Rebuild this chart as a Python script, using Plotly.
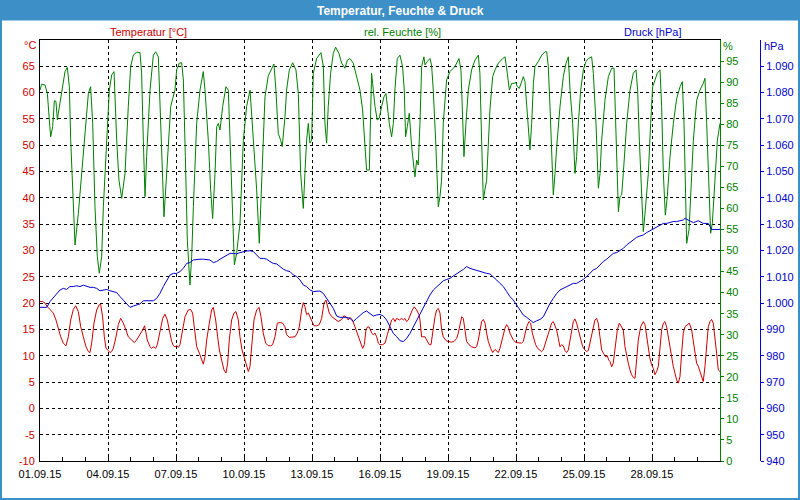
import plotly.graph_objects as go
import pandas as pd

START = "2015-09-01"

# ---- relative humidity [%] (hours since start, value) ----
hum_hours = [
    0, 1.8, 5.3, 7.8, 9.9, 11.3, 13.4, 15.2, 16.9, 18.4,
    19.4, 22.9, 26.5, 28.9, 31.1, 32.5, 34.6, 37.1, 40.6, 44.1,
    47.6, 51.2, 53.6, 55.8, 58.2, 60.7, 62.8, 65.3, 67.1, 70.6,
    73.4, 75.9, 78.4, 81.2, 83.6, 86.5, 90.0, 93.5, 96.0, 98.8,
    102.4, 105.9, 107.6, 109.4, 111.2, 112.9, 116.5, 120.0, 122.5, 125.3,
    127.8, 129.9, 131.3, 132.4, 134.1, 138.4, 140.5, 142.9, 144.7, 147.5,
    150.0, 151.8, 153.9, 156.0, 158.8, 160.6, 162.4, 165.9, 169.4, 172.9,
    174.7, 178.2, 180.7, 182.8, 185.3, 187.1, 188.8, 190.6, 193.4, 196.9,
    199.4, 201.9, 204.0, 205.8, 208.2, 211.8, 215.3, 218.8, 222.4, 225.9,
    229.4, 232.2, 234.7, 236.4, 238.2, 241.7, 245.3, 247.7, 249.8, 252.3,
    254.8, 256.5, 259.4, 261.1, 264.0, 267.5, 271.0, 273.5, 276.0, 278.8,
    280.5, 282.3, 284.1, 285.8, 287.6, 289.4, 292.9, 297.5, 300.0, 301.7,
    303.5, 305.2, 307.7, 310.5, 313.0, 316.5, 319.4, 322.9, 325.4, 328.2,
    331.7, 335.2, 338.8, 341.6, 344.1, 345.8, 348.7, 350.1, 351.1, 352.2,
    354.7, 357.1, 359.2, 361.7, 364.2, 366.3, 367.7, 369.8, 372.3, 374.1,
    375.8, 378.3, 381.1, 383.9, 385.7, 387.1, 388.9, 391.0, 393.5, 395.9,
    397.0, 398.8, 400.5, 402.3, 404.1, 406.5, 407.6, 410.1, 412.9, 414.6,
    416.4, 418.9, 421.7, 423.5, 425.2, 427.0, 430.5, 434.1, 439.4, 443.6,
    445.7, 447.1, 448.9, 451.0, 453.5, 457.0, 460.5, 464.1, 465.8, 467.6,
    469.4, 471.1, 472.9, 476.4, 479.3, 481.8, 485.3, 489.9, 492.4, 494.8,
    497.0, 499.4, 501.9, 504.0, 505.4, 507.5, 510.0, 511.8, 513.5, 515.3,
    517.1, 518.8, 520.6, 522.4, 524.1, 527.7, 531.2, 534.7, 536.5, 538.2,
    540.0, 541.8, 543.5, 545.3, 547.1, 550.6, 554.1, 557.0, 559.4, 561.2,
    564.0, 566.5, 568.2, 570.0, 572.5, 575.3, 578.1, 580.6, 584.1, 585.9,
    588.7, 591.2, 593.0, 594.7, 598.2, 601.8, 605.3, 607.8, 609.2, 610.6,
    612.4, 614.1, 615.9, 617.6, 621.2, 624.7, 628.2, 631.1, 632.8, 634.6,
    637.1, 638.8, 640.6, 644.1, 646.6, 648.7, 651.2, 653.6, 656.5, 658.2,
    660.0, 662.1, 664.2, 667.1, 670.6, 674.1, 677.7, 680.1, 681.9, 683.6,
    684.7, 687.2, 688.9, 691.8, 695.3, 698.8, 702.3, 704.1, 705.9, 708.0,
    710.1, 711.9, 714.7, 717.2, 720.0,
]
hum_values = [
    88.1, 89.5, 89.3, 87.3, 81.0, 77.0, 79.4, 85.6, 85.4, 81.0,
    82.6, 87.3, 92.5, 93.5, 88.9, 76.2, 66.0, 51.3, 58.8, 68.3,
    79.4, 87.3, 88.9, 80.2, 60.4, 48.5, 44.6, 48.5, 60.4, 76.2,
    88.1, 91.7, 92.5, 76.2, 66.7, 62.4, 68.3, 84.2, 93.7, 96.4,
    97.1, 97.0, 92.1, 76.2, 62.8, 72.3, 88.1, 96.4, 97.2, 96.0,
    80.2, 68.3, 58.0, 62.0, 68.3, 84.2, 86.1, 88.1, 92.9, 94.5,
    94.6, 90.5, 72.3, 52.5, 41.8, 48.5, 60.4, 80.2, 88.1, 92.5,
    88.1, 76.2, 64.4, 57.6, 68.3, 79.4, 80.2, 78.6, 84.2, 88.9,
    88.1, 72.3, 56.5, 46.6, 49.3, 56.5, 76.2, 84.2, 88.1, 76.2,
    64.4, 51.7, 66.0, 80.0, 86.5, 91.5, 93.3, 94.3, 88.1, 77.8,
    76.2, 74.7, 81.8, 88.1, 92.9, 94.6, 92.9, 87.3, 68.3, 60.0,
    68.3, 76.2, 80.2, 75.5, 76.2, 92.1, 95.6, 97.0, 93.7, 80.2,
    75.5, 84.2, 92.1, 96.8, 98.3, 96.8, 94.5, 93.3, 95.2, 95.6,
    94.5, 91.3, 88.1, 83.4, 76.2, 69.1, 69.1, 84.2, 92.1, 89.7,
    84.2, 81.0, 81.4, 84.2, 86.5, 87.3, 84.2, 80.2, 77.0, 80.2,
    88.1, 95.6, 96.4, 93.7, 88.1, 77.0, 79.4, 82.6, 74.7, 68.3,
    67.5, 71.5, 70.3, 80.2, 93.7, 96.0, 94.1, 94.9, 95.6, 94.1,
    88.1, 76.2, 60.4, 62.8, 66.7, 80.2, 90.5, 92.5, 93.7, 95.6,
    92.9, 84.2, 72.3, 80.2, 88.1, 92.9, 95.2, 96.4, 92.1, 76.2,
    62.0, 64.4, 66.7, 83.4, 91.3, 92.9, 94.5, 95.6, 96.0, 92.1,
    88.1, 89.7, 89.7, 89.9, 88.9, 88.5, 90.5, 91.3, 90.1, 84.2,
    77.8, 73.9, 80.2, 89.7, 93.7, 94.9, 96.4, 97.2, 97.2, 93.7,
    84.2, 72.3, 63.2, 68.3, 74.7, 84.2, 91.3, 94.5, 96.0, 88.1,
    80.2, 68.3, 72.3, 80.2, 88.1, 92.9, 94.9, 95.6, 96.0, 92.1,
    80.2, 64.8, 68.3, 76.2, 85.7, 91.3, 93.3, 93.3, 84.2, 72.3,
    59.2, 62.8, 63.2, 68.3, 80.2, 88.1, 92.1, 92.9, 88.1, 76.2,
    60.4, 54.5, 58.8, 68.3, 80.2, 88.9, 90.5, 92.1, 92.9, 84.2,
    68.3, 58.4, 62.8, 72.3, 80.2, 86.1, 88.9, 90.1, 80.2, 64.4,
    51.7, 54.9, 64.4, 76.2, 85.7, 88.1, 89.7, 90.9, 80.2, 65.2,
    54.1, 56.5, 68.3, 76.2, 80.2,
]

# ---- temperature [°C] ----
temp_hours = [
    0, 2.8, 5.3, 7.8, 10.6, 14.1, 16.9, 19.4, 21.9, 24.7,
    27.5, 30.0, 32.5, 35.3, 37.8, 40.6, 43.1, 45.9, 48.7, 51.2,
    52.9, 54.7, 57.2, 60.0, 62.8, 64.2, 66.3, 68.1, 69.9, 72.3,
    74.1, 75.9, 77.6, 80.5, 82.9, 85.4, 88.2, 91.0, 93.5, 95.3,
    97.0, 99.9, 102.3, 105.9, 108.7, 110.8, 112.2, 113.6, 116.5, 118.2,
    120.0, 122.5, 124.2, 127.0, 129.9, 132.3, 134.8, 136.9, 139.4, 141.2,
    142.9, 144.7, 146.5, 148.2, 151.0, 153.5, 157.0, 159.5, 161.6, 163.4,
    165.9, 168.7, 171.2, 172.9, 174.7, 176.5, 179.3, 181.7, 183.5, 186.0,
    188.1, 189.9, 192.3, 194.8, 196.9, 198.7, 200.4, 202.9, 205.4, 207.5,
    210.0, 211.7, 213.9, 216.0, 218.1, 220.6, 222.3, 224.1, 226.6, 229.4,
    231.9, 234.0, 236.4, 238.9, 241.7, 244.2, 246.3, 248.8, 251.3, 254.1,
    256.9, 259.4, 261.1, 264.0, 266.4, 270.0, 272.4, 274.6, 277.0, 278.8,
    280.6, 282.3, 284.1, 285.8, 288.0, 290.1, 292.9, 295.7, 298.2, 300.7,
    302.8, 304.2, 306.3, 309.1, 312.3, 315.8, 319.4, 321.8, 324.0, 326.4,
    328.2, 330.7, 333.5, 335.3, 337.4, 339.5, 341.6, 343.4, 345.1, 346.9,
    348.7, 351.2, 352.9, 354.7, 356.5, 358.2, 360.0, 362.8, 365.3, 367.8,
    369.9, 372.3, 374.1, 375.9, 377.6, 380.5, 382.9, 384.7, 386.5, 388.2,
    390.0, 391.8, 394.2, 396.3, 398.8, 401.3, 402.3, 404.1, 407.6, 409.4,
    412.2, 414.0, 415.7, 418.2, 420.0, 421.7, 423.5, 425.3, 427.0, 429.9,
    432.3, 435.9, 438.3, 441.2, 442.9, 444.7, 446.5, 448.2, 450.0, 451.7,
    454.2, 457.0, 460.6, 462.3, 464.1, 465.9, 467.6, 469.4, 471.2, 472.9,
    474.7, 477.2, 479.3, 481.7, 483.5, 485.3, 487.0, 488.8, 490.6, 492.3,
    494.1, 495.9, 497.6, 499.4, 501.1, 504.0, 506.4, 510.0, 511.7, 513.5,
    515.3, 517.7, 519.5, 521.3, 523.0, 524.8, 526.9, 529.4, 531.1, 532.9,
    534.7, 536.4, 539.3, 541.7, 543.5, 545.3, 547.0, 548.8, 550.6, 552.3,
    554.1, 555.8, 557.6, 559.4, 561.1, 562.9, 564.7, 566.4, 568.2, 570.0,
    572.4, 574.6, 577.0, 578.8, 580.6, 582.3, 584.1, 585.8, 587.6, 589.4,
    591.1, 592.9, 594.7, 596.4, 598.9, 600.7, 602.1, 603.5, 605.3, 607.0,
    609.5, 611.3, 613.4, 615.8, 617.6, 619.4, 621.1, 622.9, 624.7, 626.4,
    628.2, 630.0, 631.7, 633.5, 636.0, 638.8, 640.6, 642.3, 644.1, 645.8,
    647.6, 649.4, 651.1, 652.9, 654.7, 656.4, 658.2, 660.0, 661.7, 663.5,
    665.3, 667.0, 668.8, 670.5, 672.3, 674.1, 675.8, 677.6, 679.4, 681.1,
    682.9, 685.4, 687.5, 690.0, 691.7, 693.5, 695.2, 697.0, 698.8, 700.5,
    702.3, 704.1, 705.8, 707.6, 709.4, 711.1, 712.9, 714.7, 716.4, 718.2,
    720.0,
]
temp_values = [
    20.3, 20.3, 20.0, 19.3, 18.8, 18.1, 16.8, 14.9, 13.6, 12.4,
    11.9, 13.6, 16.8, 18.8, 19.5, 18.4, 15.5, 13.6, 11.7, 10.8,
    10.6, 12.4, 16.2, 18.7, 19.7, 19.8, 17.4, 13.6, 11.4, 11.0,
    10.6, 10.8, 11.4, 13.6, 15.9, 17.1, 16.2, 14.9, 13.6, 13.3,
    13.0, 12.5, 13.0, 14.0, 14.9, 15.7, 14.6, 13.0, 11.7, 11.4,
    11.7, 11.4, 12.1, 14.9, 17.1, 17.9, 16.8, 14.9, 12.7, 11.9,
    11.7, 11.9, 11.6, 12.1, 14.9, 17.4, 18.7, 18.8, 18.1, 14.9,
    11.7, 10.5, 9.2, 8.4, 9.8, 13.0, 16.2, 18.7, 19.2, 16.8,
    13.6, 11.1, 9.2, 7.3, 6.7, 8.6, 13.0, 16.8, 18.1, 18.4,
    16.8, 13.6, 11.1, 9.8, 8.3, 7.0, 7.9, 11.7, 16.8, 18.7,
    19.2, 17.4, 14.3, 12.4, 11.9, 11.9, 12.1, 13.6, 16.2, 16.3,
    16.2, 15.5, 14.0, 13.5, 13.5, 13.6, 14.3, 15.5, 18.7, 20.1,
    19.3, 17.8, 18.1, 17.4, 16.8, 15.7, 15.7, 15.9, 17.1, 20.0,
    20.6, 19.3, 18.1, 17.4, 16.9, 16.5, 16.9, 17.6, 17.4, 16.8,
    17.3, 16.8, 15.5, 14.6, 13.6, 12.4, 11.4, 12.1, 14.9, 15.5,
    15.4, 14.3, 14.0, 14.3, 13.6, 12.4, 12.1, 12.1, 12.4, 14.0,
    15.5, 16.8, 17.1, 16.5, 17.1, 16.8, 17.1, 16.8, 17.1, 16.5,
    16.8, 17.8, 18.7, 19.3, 18.7, 17.8, 16.8, 13.6, 13.6, 13.0,
    12.1, 12.1, 14.3, 17.4, 18.7, 19.0, 18.1, 14.9, 13.6, 12.9,
    12.7, 12.6, 12.7, 13.3, 14.3, 16.2, 17.4, 17.1, 14.9, 12.7,
    12.1, 11.7, 11.5, 11.7, 13.0, 14.9, 16.5, 16.9, 16.2, 14.3,
    12.7, 11.4, 10.6, 11.2, 10.8, 10.6, 11.4, 12.7, 14.3, 15.2,
    15.9, 15.4, 14.3, 13.6, 13.0, 12.5, 12.5, 12.4, 12.7, 14.0,
    15.5, 16.5, 16.2, 14.3, 13.0, 12.1, 11.4, 11.1, 10.8, 11.1,
    12.1, 13.0, 14.6, 16.2, 16.5, 15.5, 14.9, 13.3, 11.7, 12.1,
    11.9, 11.0, 10.6, 11.1, 12.7, 14.9, 16.5, 17.0, 16.2, 14.9,
    13.0, 11.7, 11.1, 10.8, 11.0, 12.4, 14.3, 15.9, 16.8, 17.1,
    16.2, 13.6, 11.1, 10.5, 9.8, 10.0, 9.2, 8.9, 7.9, 8.6,
    11.7, 14.9, 16.2, 15.5, 14.9, 11.7, 9.8, 8.6, 7.3, 6.4,
    5.9, 5.7, 9.2, 13.0, 15.5, 16.5, 15.9, 13.6, 11.7, 9.5,
    8.3, 7.6, 6.4, 7.0, 8.0, 11.7, 14.9, 16.2, 16.5, 15.5,
    13.6, 11.1, 9.2, 8.0, 6.7, 5.4, 4.8, 6.0, 10.5, 14.3,
    15.5, 15.9, 16.2, 14.9, 13.0, 10.5, 8.6, 8.0, 7.0, 6.0,
    5.1, 8.0, 12.4, 15.5, 16.5, 16.9, 16.2, 13.6, 10.5, 7.3,
    7.0,
]

# ---- air pressure [hPa] ----
pres_hours = [
    0, 7.1, 10.6, 14.1, 17.6, 21.2, 24.7, 28.2, 31.8, 35.3,
    38.8, 42.3, 45.9, 49.4, 52.9, 56.5, 60.0, 63.5, 67.1, 70.6,
    74.1, 77.6, 81.2, 84.7, 88.2, 91.8, 95.3, 98.8, 102.3, 105.9,
    109.4, 112.9, 116.5, 120.0, 123.5, 127.0, 130.6, 134.1, 137.6, 141.2,
    144.7, 148.2, 151.7, 155.3, 158.8, 162.3, 165.9, 169.4, 172.9, 176.5,
    180.0, 183.5, 187.0, 190.6, 194.1, 197.6, 201.2, 204.7, 208.2, 211.7,
    215.3, 218.8, 222.3, 225.9, 229.4, 232.9, 236.4, 240.0, 243.5, 247.0,
    250.6, 254.1, 257.6, 261.1, 264.7, 268.2, 271.7, 275.3, 278.8, 282.3,
    285.8, 289.4, 292.9, 296.4, 300.0, 303.5, 307.0, 310.6, 314.1, 317.6,
    321.1, 324.7, 328.2, 331.7, 335.3, 338.8, 342.3, 345.8, 349.4, 352.9,
    356.5, 360.0, 363.5, 367.0, 370.6, 374.1, 377.6, 381.2, 384.7, 388.2,
    391.7, 395.3, 398.8, 402.3, 405.9, 409.4, 412.9, 416.5, 420.0, 423.5,
    427.0, 430.6, 434.1, 437.6, 441.2, 444.7, 448.2, 451.7, 455.3, 458.8,
    462.3, 465.9, 469.4, 472.9, 476.4, 480.0, 483.5, 487.0, 490.6, 494.1,
    497.6, 501.1, 504.7, 508.2, 511.7, 515.3, 518.8, 522.3, 525.9, 529.4,
    532.9, 536.4, 540.0, 543.5, 547.1, 550.6, 554.1, 557.6, 561.1, 564.7,
    568.2, 571.7, 575.3, 578.8, 582.3, 585.8, 589.4, 592.9, 596.4, 600.0,
    603.5, 607.0, 610.6, 614.1, 617.6, 621.2, 624.7, 628.2, 631.7, 635.2,
    638.8, 642.3, 645.8, 649.4, 652.9, 656.4, 660.0, 663.5, 667.0, 670.5,
    674.1, 677.6, 681.1, 682.9, 686.5, 691.8, 697.0, 702.3, 707.6, 711.2,
    714.7, 720.0,
]
pres_values = [
    998.4, 998.4, 1000.6, 1002.2, 1003.7, 1005.0, 1005.6, 1005.2, 1006.3, 1006.3,
    1006.6, 1006.3, 1006.8, 1006.3, 1006.0, 1006.0, 1005.6, 1004.7, 1005.0, 1005.2,
    1004.7, 1004.4, 1004.0, 1002.5, 1001.2, 999.9, 998.4, 998.9, 999.3, 999.7,
    1000.9, 1000.9, 1000.9, 1000.9, 1001.8, 1003.7, 1006.3, 1008.8, 1010.7, 1011.3,
    1011.3, 1012.0, 1013.2, 1015.1, 1015.4, 1016.4, 1016.7, 1016.7, 1016.7, 1016.4,
    1016.4, 1015.4, 1015.8, 1016.7, 1017.4, 1017.9, 1018.9, 1018.9, 1018.7, 1019.2,
    1019.6, 1019.8, 1019.9, 1019.6, 1018.3, 1017.0, 1017.0, 1016.7, 1015.8, 1015.1,
    1014.9, 1013.9, 1012.9, 1012.3, 1012.0, 1010.7, 1010.1, 1008.8, 1006.9, 1006.3,
    1005.0, 1004.4, 1004.4, 1004.6, 1003.7, 1001.8, 999.9, 998.0, 995.1, 994.6,
    994.6, 994.6, 994.2, 993.0, 994.2, 995.5, 996.4, 997.0, 996.2, 995.1,
    995.5, 995.7, 995.1, 993.6, 991.0, 988.5, 987.3, 985.7, 985.4, 986.6,
    988.5, 991.0, 993.6, 996.1, 998.4, 1001.2, 1003.1, 1005.0, 1006.3, 1007.5,
    1008.5, 1009.0, 1009.4, 1010.3, 1011.3, 1012.0, 1012.8, 1013.9, 1013.2, 1012.8,
    1012.6, 1012.0, 1011.6, 1011.3, 1011.1, 1010.1, 1008.8, 1007.5, 1006.3, 1004.4,
    1002.5, 1001.2, 999.3, 997.4, 995.5, 994.6, 993.6, 992.6, 993.3, 993.8,
    994.8, 997.4, 999.9, 1001.8, 1003.7, 1005.0, 1005.6, 1006.3, 1006.9, 1007.5,
    1007.5, 1008.2, 1009.0, 1010.1, 1011.3, 1012.6, 1013.2, 1014.5, 1015.8, 1016.7,
    1017.7, 1018.9, 1019.2, 1019.9, 1020.8, 1022.1, 1023.0, 1024.0, 1025.0, 1025.5,
    1025.9, 1026.8, 1027.5, 1028.0, 1028.8, 1029.7, 1030.3, 1030.3, 1030.6, 1031.0,
    1031.0, 1031.2, 1031.6, 1032.2, 1031.6, 1030.6, 1031.3, 1030.3, 1030.3, 1028.0,
    1028.0, 1028.0,
]

# ---- axis ticks ----
temp_ticks = list(range(-10, 70, 5))
temp_ticktext = [str(v) for v in temp_ticks]  # plain hyphen-minus like the original
hum_ticks = list(range(0, 100, 5))
pres_ticks = list(range(940, 1100, 10))
pres_ticktext = [f"{v // 1000}.{v % 1000:03d}" if v >= 1000 else str(v) for v in pres_ticks]
date_ticks_days = list(range(0, 30, 3))

RED = "#CC0000"
GREEN = "#008000"
BLUE = "#0000CC"
BAR = "#3D8FC7"
FONT = "Liberation Sans"

start = pd.Timestamp(START)


def to_time(hours):
    return [start + pd.Timedelta(hours=h) for h in hours]


W, H = 800, 500
ML, MR, MT, MB = 40, 40, 40, 39
PW, PH = W - ML - MR, H - MT - MB


def px_x(x):
    return (x - ML) / PW


def px_y(y):
    return (H - MB - y) / PH


fig = go.Figure()
fig.add_trace(go.Scatter(x=to_time(hum_hours), y=hum_values, yaxis="y2", mode="lines",
                         line=dict(color=GREEN, width=1), name="rel. Feuchte [%]"))
fig.add_trace(go.Scatter(x=to_time(temp_hours), y=temp_values, yaxis="y", mode="lines",
                         line=dict(color=RED, width=1), name="Temperatur [°C]"))
fig.add_trace(go.Scatter(x=to_time(pres_hours), y=pres_values, yaxis="y3", mode="lines",
                         line=dict(color=BLUE, width=1), name="Druck [hPa]"))

x_end = (W - ML - MR - 40) / PW  # domain end where % axis sits (x=720)

fig.update_layout(
    width=W, height=H,
    margin=dict(l=ML, r=MR, t=MT, b=MB, pad=0, autoexpand=False),
    paper_bgcolor="white", plot_bgcolor="white",
    showlegend=False,
    font=dict(family=FONT, size=11, color="black"),
    xaxis=dict(
        domain=[0, x_end], type="date",
        range=[start, start + pd.Timedelta(days=30)],
        tickmode="array",
        tickvals=[start + pd.Timedelta(days=d) for d in date_ticks_days],
        tickformat="%d.%m.%y",
        showgrid=True, gridcolor="black", griddash="3px,3px", gridwidth=1,
        showline=True, linecolor="black", linewidth=1, mirror=True,
        ticks="inside", ticklen=4, tickcolor="black",
        minor=dict(dtick=86400000, tick0=start, ticks="inside", ticklen=4,
                   tickcolor="black", showgrid=False),
        tickfont=dict(color="black", size=11, family=FONT),
        ticklabelstandoff=3,
        zeroline=False, automargin=False,
    ),
    yaxis=dict(
        range=[-10, 70], tickmode="array", tickvals=temp_ticks, ticktext=temp_ticktext,
        showgrid=True, gridcolor="black", griddash="3px,3px", gridwidth=1,
        showline=True, linecolor="black", linewidth=1,
        ticks="", tickfont=dict(color=RED, size=11, family=FONT),
        zeroline=False, ticklabelstandoff=2, automargin=False,
    ),
    yaxis2=dict(
        overlaying="y", side="right", anchor="x",
        range=[0, 100], tickmode="array", tickvals=hum_ticks,
        showgrid=False, showline=True, linecolor=GREEN, linewidth=1,
        ticks="outside", ticklen=3, tickcolor=GREEN,
        tickfont=dict(color=GREEN, size=11, family=FONT), zeroline=False, automargin=False,
    ),
    yaxis3=dict(
        overlaying="y", side="right", anchor="free", position=1.0,
        range=[940, 1100], tickmode="array", tickvals=pres_ticks, ticktext=pres_ticktext,
        showgrid=False, showline=True, linecolor=BLUE, linewidth=1,
        ticks="outside", ticklen=3, tickcolor=BLUE,
        tickfont=dict(color=BLUE, size=11, family=FONT), zeroline=False, automargin=False,
    ),
    shapes=[
        dict(type="rect", xref="paper", yref="paper",
             x0=px_x(0), x1=px_x(W), y0=px_y(20.5), y1=px_y(0),
             fillcolor=BAR, line=dict(width=0), layer="above"),
        dict(type="rect", xref="paper", yref="paper",
             x0=px_x(1), x1=px_x(W - 1), y0=px_y(H - 1), y1=px_y(10),
             fillcolor="rgba(0,0,0,0)", line=dict(color=BAR, width=2), layer="above"),
    ],
)

annos = [
    dict(text="<b>Temperatur, Feuchte &amp; Druck</b>", x=px_x(400), y=px_y(10.5),
         xanchor="center", yanchor="middle", font=dict(color="white", size=12, family=FONT)),
    dict(text="Temperatur [°C]", x=px_x(148), y=px_y(32), xanchor="center", yanchor="middle",
         font=dict(color=RED, size=11, family=FONT)),
    dict(text="rel. Feuchte [%]", x=px_x(402), y=px_y(32), xanchor="center", yanchor="middle",
         font=dict(color=GREEN, size=11, family=FONT)),
    dict(text="Druck [hPa]", x=px_x(652), y=px_y(32), xanchor="center", yanchor="middle",
         font=dict(color=BLUE, size=11, family=FONT)),
    dict(text="°C", x=px_x(37), y=px_y(45), xanchor="right", yanchor="middle",
         font=dict(color=RED, size=11, family=FONT)),
    dict(text="%", x=px_x(722), y=px_y(46), xanchor="left", yanchor="middle",
         font=dict(color=GREEN, size=11, family=FONT)),
    dict(text="hPa", x=px_x(763), y=px_y(46), xanchor="left", yanchor="middle",
         font=dict(color=BLUE, size=11, family=FONT)),
]
for a in annos:
    a.update(xref="paper", yref="paper", showarrow=False, borderpad=0)
fig.update_layout(annotations=annos)

fig.write_html(
    "out.html",
    config={"displayModeBar": False, "staticPlot": True},
    post_script="document.body.style.margin='0';document.body.style.padding='0';",
)
